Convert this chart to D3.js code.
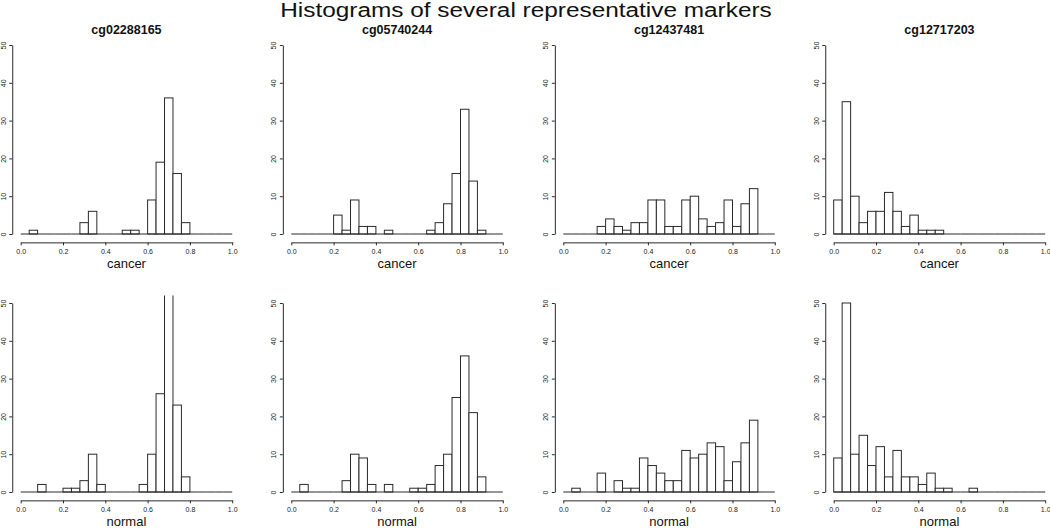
<!DOCTYPE html>
<html>
<head>
<meta charset="utf-8">
<script src="https://cdn.jsdelivr.net/npm/d3@7"></script>
<style>
  html, body { margin: 0; padding: 0; background: #fff; }
  svg { display: block; font-family: "Liberation Sans", Arial, Helvetica, sans-serif; }
</style>
</head>
<body>
<svg id="chart" width="1050" height="528"></svg>
<script>
// ---------- data ----------
const markers = ["cg02288165", "cg05740244", "cg12437481", "cg12717203"];
const groups = ["cancer", "normal"];
const binWidth = 0.04;
const binStarts = d3.range(25).map(i => +(i * binWidth).toFixed(2));
const xTicks = [0, 0.2, 0.4, 0.6, 0.8, 1.0];
const yTicks = [0, 10, 20, 30, 40, 50];

// counts per bin (bin i = [0.04*i, 0.04*(i+1)))
const cg02288165_cancer = [0,1,0,0,0,0,0,3,6,0,0,0,1,1,0,9,19,36,16,3,0,0,0,0,0];
const cg02288165_normal = [0,0,2,0,0,1,1,3,10,2,0,0,0,0,2,10,26,54,23,4,0,0,0,0,0];
const cg05740244_cancer = [0,0,0,0,0,5,1,9,2,2,0,1,0,0,0,0,1,3,8,16,33,14,1,0,0];
const cg05740244_normal = [0,2,0,0,0,0,3,10,9,2,0,2,0,0,1,1,2,7,10,25,36,21,4,0,0];
const cg12437481_cancer = [0,0,0,0,2,4,2,1,3,3,9,9,2,2,9,10,4,2,3,9,2,8,12,0,0];
const cg12437481_normal = [0,1,0,0,5,0,3,1,1,9,7,5,3,3,11,9,10,13,12,3,8,13,19,0,0];
const cg12717203_cancer = [9,35,10,3,6,6,11,6,2,5,1,1,1,0,0,0,0,0,0,0,0,0,0,0,0];
const cg12717203_normal = [9,50,10,15,7,12,4,11,4,4,2,5,1,1,0,0,1,0,0,0,0,0,0,0,0];

const counts = {
  cg02288165: { cancer: cg02288165_cancer, normal: cg02288165_normal },
  cg05740244: { cancer: cg05740244_cancer, normal: cg05740244_normal },
  cg12437481: { cancer: cg12437481_cancer, normal: cg12437481_normal },
  cg12717203: { cancer: cg12717203_cancer, normal: cg12717203_normal }
};

// ---------- layout ----------
const colX0 = [20.7, 291.3, 563.3, 833.7];   // pixel of x = 0
const colW = 211.5;                          // pixel span of x 0..1
const rowY0 = [234, 492];                    // pixel of y = 0
const rowH = 189;                            // pixel span of y 0..50
const ink = "#2a2a2a";

const svg = d3.select("#chart");

svg.append("text")
  .attr("transform", "translate(526,16.8) scale(1.25,1)")
  .attr("text-anchor", "middle")
  .attr("font-size", 19.5)
  .attr("fill", "#111")
  .text("Histograms of several representative markers");

const defs = svg.append("defs");

markers.forEach((m, c) => {
  groups.forEach((g, r) => {
    const x = d3.scaleLinear().domain([0, 1]).range([colX0[c], colX0[c] + colW]);
    const y = d3.scaleLinear().domain([0, 50]).range([rowY0[r], rowY0[r] - rowH]);
    const panel = svg.append("g");

    // plot region (R style: 4% extension)
    const px0 = x(-0.04), px1 = x(1.04), py0 = y(-2), py1 = y(52);
    const clipId = `clip-${c}-${r}`;
    defs.append("clipPath").attr("id", clipId)
      .append("rect").attr("x", px0).attr("y", py1).attr("width", px1 - px0).attr("height", py0 - py1);

    const data = counts[m][g].map((v, i) => ({ x0: binStarts[i], x1: +(binStarts[i] + binWidth).toFixed(2), n: v }));

    const bars = panel.append("g").attr("clip-path", `url(#${clipId})`);
    bars.selectAll("rect").data(data.filter(d => d.n > 0)).join("rect")
      .attr("x", d => x(d.x0))
      .attr("y", d => y(d.n))
      .attr("width", d => x(d.x1) - x(d.x0))
      .attr("height", d => y(0) - y(d.n))
      .attr("fill", "#fff")
      .attr("stroke", ink)
      .attr("stroke-width", 1);
    // zero-height bins drawn as flat lines along the baseline
    bars.selectAll("line.zero").data(data).join("line")
      .attr("class", "zero")
      .attr("x1", d => x(d.x0)).attr("x2", d => x(d.x1))
      .attr("y1", y(0)).attr("y2", y(0))
      .attr("stroke", ink).attr("stroke-width", 1);

    // x axis
    const xa = panel.append("g")
      .attr("transform", `translate(0,${py0 + 0.8})`)
      .call(d3.axisBottom(x).tickValues(xTicks).tickSize(3).tickSizeOuter(0).tickPadding(4)
        .tickFormat(d3.format(".1f")));
    xa.select(".domain").attr("stroke", ink);
    xa.selectAll(".tick line").attr("stroke", ink);
    xa.selectAll("text").attr("font-size", 7).attr("fill", "#222").attr("font-family", "Liberation Sans, Arial, sans-serif");

    // y axis
    const ya = panel.append("g")
      .attr("transform", `translate(${px0},0)`)
      .call(d3.axisLeft(y).tickValues(yTicks).tickSize(3).tickSizeOuter(0));
    ya.select(".domain").attr("stroke", ink);
    ya.selectAll(".tick line").attr("stroke", ink);
    ya.selectAll("text")
      .attr("font-size", 7).attr("fill", "#222").attr("font-family", "Liberation Sans, Arial, sans-serif")
      .attr("transform", "rotate(-90)")
      .attr("x", 0).attr("y", -6.5).attr("dy", 0)
      .attr("text-anchor", "middle");

    // x label
    panel.append("text")
      .attr("x", x(0.5)).attr("y", Math.min(py0 + 26.5, 526.5))
      .attr("text-anchor", "middle")
      .attr("font-size", 13)
      .attr("fill", "#111")
      .text(g);

    // panel title (top row only)
    if (r === 0) {
      panel.append("text")
        .attr("x", x(0.5)).attr("y", 33.5)
        .attr("text-anchor", "middle")
        .attr("font-size", 12.5)
        .attr("font-weight", "bold")
        .attr("fill", "#111")
        .text(m);
    }
  });
});
</script>
</body>
</html>
